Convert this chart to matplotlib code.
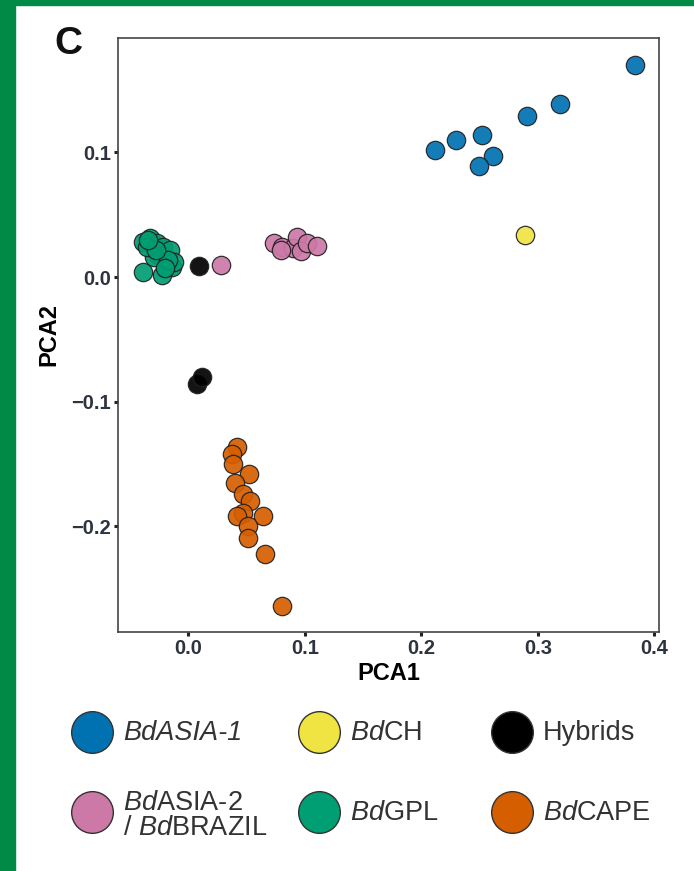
import matplotlib
matplotlib.use("Agg")
import matplotlib.pyplot as plt
from matplotlib.patches import Rectangle

plt.rcParams['font.family'] = ['Liberation Sans', 'DejaVu Sans']
plt.rcParams['mathtext.fontset'] = 'custom'
plt.rcParams['mathtext.rm'] = 'Liberation Sans'
plt.rcParams['mathtext.it'] = 'Liberation Sans:italic'

# PCA coordinates per lineage
asia1_x = [0.383, 0.319, 0.291, 0.252, 0.230, 0.212, 0.261, 0.249]
asia1_y = [0.170, 0.139, 0.129, 0.114, 0.110, 0.102, 0.097, 0.089]

ch_x = [0.289]
ch_y = [0.034]

hybrid_x = [0.009, 0.007, 0.012]
hybrid_y = [0.009, -0.086, -0.080]

asia2_x = [0.028, 0.073, 0.080, 0.090, 0.093, 0.097, 0.102, 0.110, 0.079]
asia2_y = [0.010, 0.027, 0.024, 0.023, 0.032, 0.021, 0.027, 0.025, 0.022]

gpl_x = [-0.039, -0.033, -0.027, -0.022, -0.026, -0.016, -0.014, -0.023,
         -0.039, -0.030, -0.012, -0.036, -0.018, -0.028, -0.020, -0.035]
gpl_y = [0.028, 0.031, 0.027, 0.024, 0.018, 0.022, 0.008, 0.002,
         0.004, 0.016, 0.012, 0.024, 0.014, 0.022, 0.007, 0.030]

cape_x = [0.042, 0.037, 0.038, 0.052, 0.040, 0.047, 0.053, 0.047,
          0.042, 0.064, 0.051, 0.051, 0.066, 0.080]
cape_y = [-0.136, -0.142, -0.150, -0.158, -0.165, -0.174, -0.180, -0.189,
          -0.192, -0.192, -0.200, -0.209, -0.222, -0.264]

groups = [
    (r'BdASIA-1', '#0072B2', asia1_x, asia1_y),
    (r'$\mathit{Bd}$CH', '#F0E442', ch_x, ch_y),
    ('Hybrids', '#000000', hybrid_x, hybrid_y),
    ('$\\mathit{Bd}$ASIA-2\n/ $\\mathit{Bd}$BRAZIL', '#CC79A7', asia2_x, asia2_y),
    (r'$\mathit{Bd}$GPL', '#009E73', gpl_x, gpl_y),
    (r'$\mathit{Bd}$CAPE', '#D55E00', cape_x, cape_y),
]
draw_order = [4, 3, 2, 5, 0, 1]

fig = plt.figure(figsize=(6.94, 8.71), dpi=100)
fig.patch.set_facecolor('white')

# green frame on the left and top
fig.add_artist(Rectangle((0, 0), 15 / 694, 1, transform=fig.transFigure,
                         color='#008a45', zorder=0))
fig.add_artist(Rectangle((0, 1 - 5 / 871), 1, 5 / 871, transform=fig.transFigure,
                         color='#008a45', zorder=0))

ax = fig.add_axes([118 / 694, 1 - 632 / 871, 541 / 694, 594 / 871])
for i in draw_order:
    name, col, xs, ys = groups[i]
    ax.scatter(xs, ys, s=175, c=col, edgecolors='#222222', linewidths=0.9,
               alpha=0.92, zorder=3)

ax.set_xlim(-0.0605, 0.4039)
ax.set_ylim(-0.2847, 0.1917)
ax.set_xticks([0.0, 0.1, 0.2, 0.3, 0.4])
ax.set_yticks([-0.2, -0.1, 0.0, 0.1])
ax.set_xticklabels(['0.0', '0.1', '0.2', '0.3', '0.4'])
ax.set_yticklabels(['\u22120.2', '\u22120.1', '0.0', '0.1'])
for sp in ax.spines.values():
    sp.set_color('#444444')
    sp.set_linewidth(1.2)
ax.tick_params(length=3, width=2.2, color='#222222', labelsize=14.5,
               labelcolor='#2e3340', pad=2)
for lab in ax.get_xticklabels() + ax.get_yticklabels():
    lab.set_fontweight('bold')
ax.set_xlabel('PCA1', fontsize=17, fontweight='bold', labelpad=3)
ax.set_ylabel('PCA2', fontsize=17, fontweight='bold', labelpad=8)

fig.text(54 / 694, 1 - 54 / 871, 'C', fontsize=28, fontweight='bold',
         family=['Liberation Sans Narrow', 'Liberation Sans'], color='#111111')

# legend laid out on a pixel grid below the plot
leg = fig.add_axes([0, 0, 1, 1])
leg.set_xlim(0, 694)
leg.set_ylim(871, 0)
leg.axis('off')
col_x = [92, 319, 512]
row_y = [732, 812]
for i, (name, col, xs, ys) in enumerate(groups):
    cx = col_x[i % 3]
    cy = row_y[i // 3]
    leg.scatter([cx], [cy], s=900, c=col, edgecolors='#333333', linewidths=1.0)
    style = 'italic' if i == 0 else 'normal'
    dy = 3 if i == 3 else 1
    leg.text(cx + 31, cy + dy, name, fontsize=19.5, style=style, color='#333333',
             va='center', ha='left', linespacing=0.95)

fig.savefig('out.png', dpi=100)
